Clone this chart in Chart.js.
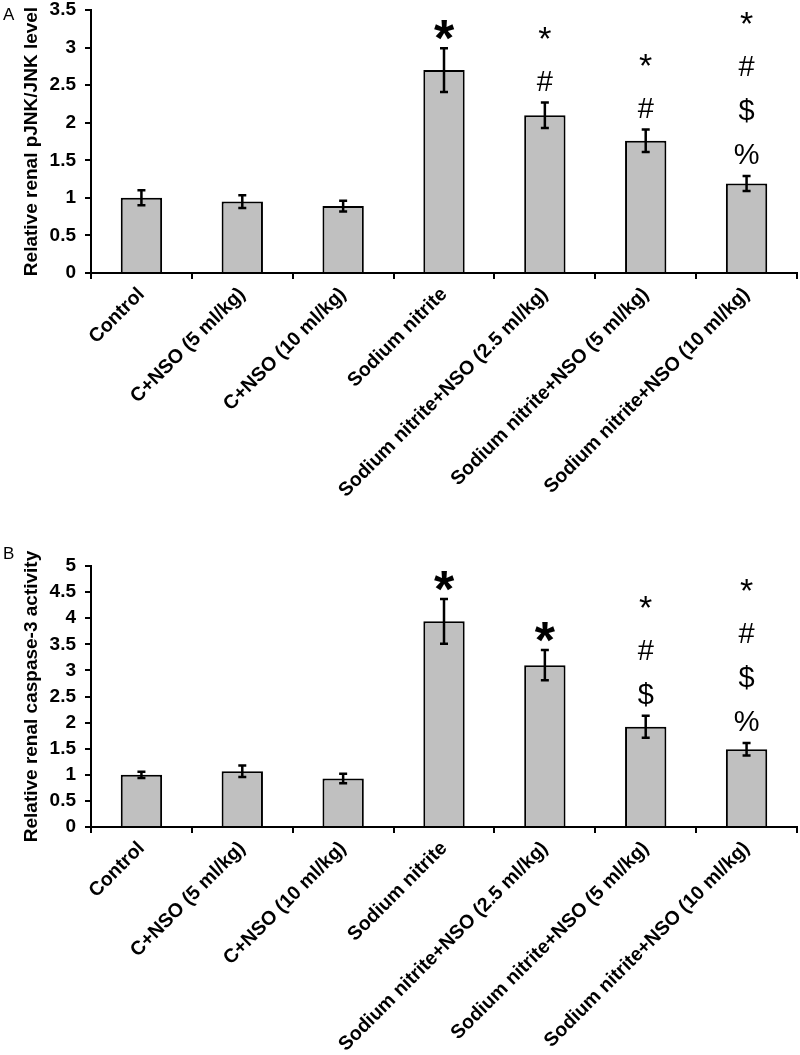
<!DOCTYPE html>
<html>
<head>
<meta charset="utf-8">
<script src="https://cdn.jsdelivr.net/npm/chart.js@4.4.1/dist/chart.umd.min.js"></script>
<style>
  body { margin: 0; background: #fff; }
  canvas { position: absolute; left: 0; }
  .tag { position: absolute; left: 3px; font: 17px 'Liberation Sans', Arial, sans-serif; color: #000; }
</style>
</head>
<body>
<canvas id="chartA" width="800" height="530" style="top:0"></canvas>
<canvas id="chartB" width="800" height="525" style="top:530px"></canvas>
<div class="tag" style="top:5px">A</div>
<div class="tag" style="top:544px">B</div>
<script>
'use strict';

const groups = [
  'Control',
  'C+NSO (5 ml/kg)',
  'C+NSO (10 ml/kg)',
  'Sodium nitrite',
  'Sodium nitrite+NSO (2.5 ml/kg)',
  'Sodium nitrite+NSO (5 ml/kg)',
  'Sodium nitrite+NSO (10 ml/kg)',
];

// panel A: pJNK/JNK
const jnkValues = [1.0, 0.95, 0.89, 2.70, 2.10, 1.76, 1.19];
const jnkErrors = [0.10, 0.085, 0.07, 0.29, 0.17, 0.15, 0.10];
const jnkMarks = [[], [], [], ['*'], ['*', '#'], ['*', '#'], ['*', '#', '$', '%']];
const jnkBigStar = [false, false, false, true, false, false, false];

// panel B: caspase-3
const caspValues = [1.0, 1.07, 0.93, 3.94, 3.10, 1.92, 1.49];
const caspErrors = [0.06, 0.11, 0.09, 0.43, 0.29, 0.21, 0.12];
const caspMarks = [[], [], [], ['*'], ['*'], ['*', '#', '$'], ['*', '#', '$', '%']];
const caspBigStar = [false, false, false, true, true, false, false];

Chart.defaults.font.family = "'Liberation Sans', Arial, sans-serif";
Chart.defaults.color = '#000';

const errorBarsAndMarks = {
  id: 'errorBarsAndMarks',
  afterDatasetsDraw(chart, args, opts) {
    const { ctx } = chart;
    const y = chart.scales.y;
    const meta = chart.getDatasetMeta(0);
    const values = chart.data.datasets[0].data;
    ctx.save();
    ctx.strokeStyle = '#000';
    ctx.fillStyle = '#000';
    ctx.lineWidth = 2.5;
    meta.data.forEach((bar, i) => {
      const top = y.getPixelForValue(values[i] + opts.errors[i]);
      const bottom = y.getPixelForValue(values[i] - opts.errors[i]);
      ctx.beginPath();
      ctx.moveTo(bar.x, top);
      ctx.lineTo(bar.x, bottom);
      ctx.moveTo(bar.x - 4, top);
      ctx.lineTo(bar.x + 4, top);
      ctx.moveTo(bar.x - 4, bottom);
      ctx.lineTo(bar.x + 4, bottom);
      ctx.stroke();

      // significance symbols, stacked upwards from the error bar
      ctx.textAlign = 'center';
      ctx.textBaseline = 'alphabetic';
      opts.marks[i].slice().reverse().forEach((sym, k) => {
        let centre = top - 22 - k * 44;
        let size;
        let lift;
        if (sym === '*') {
          lift = 0.57;
          if (opts.bigStar[i]) {
            size = 52;
            ctx.font = `bold ${size}px 'Liberation Sans', Arial, sans-serif`;
          } else {
            size = 34;
            ctx.font = `${size}px 'Liberation Sans', Arial, sans-serif`;
            if (k > 0) centre -= 6;
          }
        } else {
          lift = 0.35;
          size = 29;
          ctx.font = `${size}px 'Liberation Sans', Arial, sans-serif`;
        }
        ctx.fillText(sym, bar.x, centre + lift * size);
      });
    });
    ctx.restore();
  }
};

function renderPanel(canvasId, values, errors, marks, bigStar, yMax, title, padTop, xHeight) {
  return new Chart(document.getElementById(canvasId), {
    type: 'bar',
    data: {
      labels: groups,
      datasets: [{
        data: values,
        backgroundColor: '#c0c0c0',
        borderColor: '#000',
        borderWidth: 2,
        categoryPercentage: 1,
        barPercentage: 0.41,
      }],
    },
    options: {
      responsive: false,
      animation: false,
      devicePixelRatio: 1,
      layout: { padding: { left: 0, right: 3, top: padTop, bottom: 0 } },
      plugins: {
        legend: { display: false },
        tooltip: { enabled: false },
        errorBarsAndMarks: { errors, marks, bigStar },
      },
      scales: {
        x: {
          grid: { drawOnChartArea: false, offset: true, color: '#000', lineWidth: 2, tickLength: 6 },
          border: { color: '#000', width: 2 },
          ticks: {
            font: { size: 19.5, weight: 'bold' },
            minRotation: 45,
            maxRotation: 45,
            autoSkip: false,
            padding: 4,
          },
          afterFit: (scale) => {
            scale.height = xHeight;
            scale.paddingLeft = 0;
            scale.paddingRight = 0;
          },
        },
        y: {
          min: 0,
          max: yMax,
          grid: { drawOnChartArea: false, color: '#000', lineWidth: 2, tickLength: 6 },
          border: { color: '#000', width: 2 },
          ticks: {
            stepSize: 0.5,
            font: { size: 19, weight: 'bold' },
            padding: 9,
            callback: (value) => String(value),
          },
          title: {
            display: true,
            text: title,
            font: { size: 19, weight: 'bold' },
            padding: { top: 20, bottom: 0 },
          },
          afterFit: (scale) => {
            scale.width = 91;
            scale.paddingTop = 0;
            scale.paddingBottom = 0;
          },
        },
      },
    },
    plugins: [errorBarsAndMarks],
  });
}

renderPanel('chartA', jnkValues, jnkErrors, jnkMarks, jnkBigStar, 3.5,
  'Relative renal pJNK/JNK level', 10, 257);
renderPanel('chartB', caspValues, caspErrors, caspMarks, caspBigStar, 5,
  'Relative renal caspase-3 activity', 36, 228);
</script>
</body>
</html>
